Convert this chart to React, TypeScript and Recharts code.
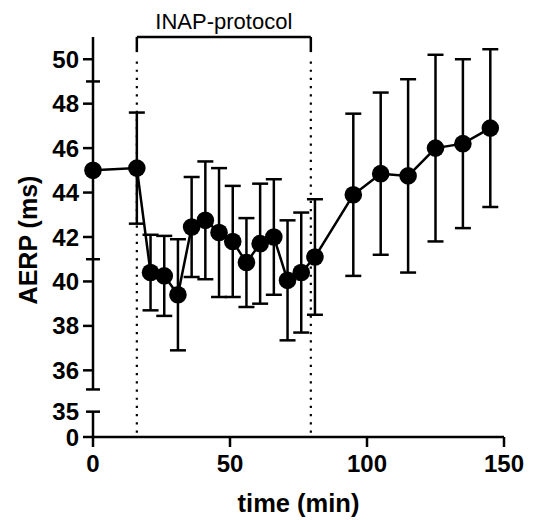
import React from "react";
import {
  ComposedChart,
  Line,
  ErrorBar,
  XAxis,
  YAxis,
  ReferenceLine,
} from "recharts";

if (typeof document !== "undefined") document.body.style.overflow = "hidden";

// time points (min)
const times = [0, 16, 21, 26, 31, 36, 41, 46, 51, 56, 61, 66, 71, 76, 81, 95, 105, 115, 125, 135, 145];
// mean AERP (ms)
const aerp = [45.0, 45.1, 40.4, 40.25, 39.4, 42.45, 42.75, 42.2, 41.8, 40.85, 41.7, 42.0, 40.05, 40.4, 41.1, 43.9, 44.85, 44.75, 46.0, 46.2, 46.9];
// SD (ms)
const sd = [0, 2.5, 1.7, 1.8, 2.5, 2.25, 2.65, 2.9, 2.5, 2.0, 2.7, 2.6, 2.7, 2.7, 2.6, 3.65, 3.65, 4.35, 4.2, 3.8, 3.55];

const xTicks = [0, 50, 100, 150];
// broken y axis: values below the break are drawn on a compressed stub
const yTicks = [33, 34.14, 35.14, 36, 38, 40, 41, 42, 44, 46, 48, 49, 50];
const yTickLabels = ["0", "35", "", "36", "38", "40", "", "42", "44", "46", "48", "", "50"];
const crossTicks = [34.14, 35.14, 41, 49];

const protocolStart = 16;
const protocolEnd = 79.5;

const data = times.map((t, i) => ({ t, v: aerp[i], sd: sd[i] }));

const FONT = '"Liberation Sans", Arial, Helvetica, sans-serif';
const SW = 2.5;
const TICK_SIZE = 10;
const TICK_MARGIN = 4;

function YTick(props: any) {
  const { x, y, payload } = props;
  const v = payload.value;
  const axisX = x + TICK_SIZE + TICK_MARGIN;
  const idx = yTicks.indexOf(v);
  const label = idx >= 0 ? yTickLabels[idx] : "";
  const cross = crossTicks.includes(v);
  return (
    <g>
      <line
        x1={cross ? axisX - 7 : axisX - TICK_SIZE}
        x2={cross ? axisX + 7 : axisX}
        y1={y}
        y2={y}
        stroke="#000"
        strokeWidth={SW}
      />
      {label && (
        <text x={x} y={y} dy="0.355em" textAnchor="end" fill="#000" fontSize={24} fontWeight="bold" fontFamily={FONT}>
          {label}
        </text>
      )}
    </g>
  );
}

export default function App() {
  return (
    <ComposedChart
      width={527}
      height={510}
      data={data}
      margin={{ top: 29, right: 31, left: 0, bottom: 5 }}
      style={{ fontFamily: FONT, overflow: "visible" }}
    >
      <XAxis
        type="number"
        dataKey="t"
        domain={[0, 150]}
        ticks={xTicks}
        height={76}
        tickSize={TICK_SIZE}
        tickMargin={8}
        axisLine={{ stroke: "#000", strokeWidth: SW }}
        tickLine={{ stroke: "#000", strokeWidth: SW }}
        tick={{ fill: "#000", fontSize: 24, fontWeight: "bold" }}
        label={{ value: "time (min)", position: "insideBottom", offset: 1, fill: "#000", fontSize: 25.5, fontWeight: "bold" }}
      />
      <YAxis
        type="number"
        domain={[33, 51]}
        ticks={yTicks}
        interval={0}
        width={85}
        allowDataOverflow
        axisLine={false}
        tickLine={false}
        tickSize={TICK_SIZE}
        tickMargin={TICK_MARGIN}
        tick={<YTick />}
        label={{ value: "AERP (ms)", angle: -90, position: "center", dx: -22, dy: 3, fill: "#000", fontSize: 25, fontWeight: "bold" }}
      />
      {/* y axis line, broken */}
      <ReferenceLine segment={[{ x: 0, y: 35.14 }, { x: 0, y: 51 }]} stroke="#000" strokeWidth={SW} ifOverflow="visible" />
      <ReferenceLine segment={[{ x: 0, y: 33 }, { x: 0, y: 34.14 }]} stroke="#000" strokeWidth={SW} ifOverflow="visible" />
      {/* protocol window */}
      <ReferenceLine segment={[{ x: protocolStart, y: 49.9 }, { x: protocolStart, y: 33 }]} stroke="#000" strokeWidth={2.2} strokeDasharray="2.2 6" ifOverflow="visible" />
      <ReferenceLine segment={[{ x: protocolEnd, y: 49.9 }, { x: protocolEnd, y: 33 }]} stroke="#000" strokeWidth={2.2} strokeDasharray="2.2 6" ifOverflow="visible" />
      <ReferenceLine segment={[{ x: protocolStart, y: 51 }, { x: protocolStart, y: 50.32 }]} stroke="#000" strokeWidth={SW} ifOverflow="visible" />
      <ReferenceLine segment={[{ x: protocolEnd, y: 51 }, { x: protocolEnd, y: 50.32 }]} stroke="#000" strokeWidth={SW} ifOverflow="visible" />
      <ReferenceLine
        segment={[{ x: protocolStart, y: 51 }, { x: protocolEnd, y: 51 }]}
        stroke="#000"
        strokeWidth={SW}
        ifOverflow="visible"
        label={{ value: "INAP-protocol", position: "top", offset: 8, fill: "#000", fontSize: 22 }}
      />
      <Line
        dataKey="v"
        stroke="#000"
        strokeWidth={SW}
        dot={{ r: 8.8, fill: "#000", stroke: "#000", strokeWidth: 0 }}
        activeDot={false}
        isAnimationActive={false}
      >
        <ErrorBar dataKey="sd" width={8} stroke="#000" strokeWidth={SW} direction="y" isAnimationActive={false} />
      </Line>
    </ComposedChart>
  );
}
